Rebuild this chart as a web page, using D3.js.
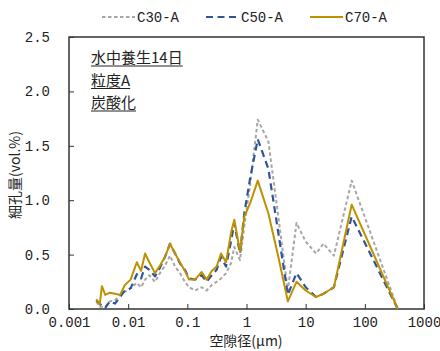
<!DOCTYPE html>
<html>
<head>
<meta charset="utf-8">
<script src="https://cdnjs.cloudflare.com/ajax/libs/d3/7.8.5/d3.min.js"></script>
<style>
  body { margin: 0; background: #fff; }
  text { font-family: "Noto Sans CJK JP", sans-serif; fill: #222; }
  .num { font-family: "Liberation Mono", "DejaVu Sans Mono", monospace; }
</style>
</head>
<body>
<script>
// pore diameter (um) and pore volume (vol.%)
var diam = [0.0029, 0.0033, 0.0036, 0.0041, 0.0049, 0.0060, 0.0073, 0.0088, 0.011, 0.014,
            0.0165, 0.0193, 0.0228, 0.0284, 0.0345, 0.042, 0.051, 0.062, 0.075, 0.091,
            0.107, 0.135, 0.175, 0.212, 0.258, 0.313, 0.371, 0.451, 0.547, 0.622,
            0.776, 0.918, 1.15, 1.55, 2.34, 3.45, 5, 7, 10, 15,
            20, 30, 60, 360];
var c30 = [0.07, 0.02, 0.02, 0.02, 0.07, 0.08, 0.13, 0.16, 0.19, 0.24,
           0.20, 0.27, 0.31, 0.25, 0.33, 0.40, 0.49, 0.39, 0.33, 0.25,
           0.20, 0.17, 0.20, 0.17, 0.22, 0.25, 0.28, 0.33, 0.42, 0.57,
           0.45, 0.76, 1.14, 1.74, 1.54, 0.85, 0.17, 0.79, 0.62, 0.51,
           0.60, 0.49, 1.18, 0.0];
var c50 = [0.08, 0.05, 0.03, 0.01, 0.07, 0.05, 0.11, 0.17, 0.19, 0.32,
           0.28, 0.39, 0.36, 0.30, 0.38, 0.48, 0.60, 0.51, 0.42, 0.36,
           0.28, 0.27, 0.31, 0.25, 0.31, 0.36, 0.48, 0.39, 0.62, 0.79,
           0.51, 0.88, 1.20, 1.56, 1.29, 0.70, 0.13, 0.33, 0.20, 0.11,
           0.14, 0.20, 0.85, 0.0];
var c70 = [0.09, 0.04, 0.21, 0.13, 0.15, 0.14, 0.13, 0.22, 0.27, 0.43,
           0.35, 0.51, 0.43, 0.33, 0.40, 0.48, 0.60, 0.51, 0.43, 0.35,
           0.27, 0.27, 0.34, 0.27, 0.35, 0.39, 0.51, 0.43, 0.70, 0.82,
           0.53, 0.85, 0.97, 1.18, 0.88, 0.48, 0.07, 0.25, 0.17, 0.11,
           0.14, 0.20, 0.96, 0.0];
var seriesNames = ["C30-A", "C50-A", "C70-A"];
var xTicks = [0.001, 0.01, 0.1, 1, 10, 100, 1000];
var xTickLabels = ["0.001", "0.01", "0.1", "1", "10", "100", "1000"];
var yTicks = [0, 0.5, 1, 1.5, 2, 2.5];
var yTickLabels = ["0.0", "0.5", "1.0", "1.5", "2.0", "2.5"];
var notes = ["水中養生14日", "粒度A", "炭酸化"];

var width = 440, height = 351;
var plotL = 69, plotR = 424, plotT = 37, plotB = 309;

var svg = d3.select("body").append("svg")
            .attr("width", width)
            .attr("height", height);

var x = d3.scaleLog().domain([0.001, 1000]).range([plotL, plotR]);
var y = d3.scaleLinear().domain([0, 2.5]).range([plotB, plotT]);

// frame
svg.append("rect")
   .attr("x", plotL).attr("y", plotT)
   .attr("width", plotR - plotL).attr("height", plotB - plotT)
   .attr("fill", "none").attr("stroke", "#333").attr("stroke-width", 1.5);

// axes, ticks inside
var xAxis = svg.append("g")
   .attr("transform", "translate(0," + plotB + ")")
   .call(d3.axisBottom(x).tickValues(xTicks).tickSizeInner(-5).tickSizeOuter(0)
           .tickFormat(function(d, i) { return xTickLabels[i]; }));
xAxis.select(".domain").remove();
xAxis.selectAll("line").attr("stroke", "#333");
xAxis.selectAll("text").attr("class", "num").attr("font-size", 14)
     .attr("y", 8).attr("fill", "#222");

var yAxis = svg.append("g")
   .attr("transform", "translate(" + plotL + ",0)")
   .call(d3.axisLeft(y).tickValues(yTicks).tickSizeInner(-5).tickSizeOuter(0)
           .tickFormat(function(d, i) { return yTickLabels[i]; }));
yAxis.select(".domain").remove();
yAxis.selectAll("line").attr("stroke", "#333");
yAxis.selectAll("text").attr("class", "num").attr("font-size", 14)
     .attr("x", -19).attr("fill", "#222");

// axis titles
svg.append("text")
   .attr("x", 246).attr("y", 346)
   .attr("text-anchor", "middle").attr("font-size", 14)
   .text("空隙径(μm)");
svg.append("text")
   .attr("transform", "translate(20,175) rotate(-90)")
   .attr("text-anchor", "middle").attr("font-size", 14)
   .text("細孔量(vol.%)");

// lines
var styles = [
  { data: c30, color: "#A6A6A6", dash: "3.5,2.5", w: 2 },
  { data: c50, color: "#2F5597", dash: "7,4.5", w: 2.2 },
  { data: c70, color: "#BF9000", dash: null, w: 2 }
];
var line = d3.line()
   .x(function(d) { return x(d[0]); })
   .y(function(d) { return y(d[1]); });

styles.forEach(function(s) {
  svg.append("path")
     .datum(d3.zip(diam, s.data))
     .attr("d", line)
     .attr("fill", "none")
     .attr("stroke", s.color)
     .attr("stroke-width", s.w)
     .attr("stroke-dasharray", s.dash)
     .attr("stroke-linejoin", "round");
});

// legend
var legX = [102, 206, 310];
styles.forEach(function(s, i) {
  svg.append("line")
     .attr("x1", legX[i]).attr("x2", legX[i] + 33)
     .attr("y1", 17).attr("y2", 17)
     .attr("stroke", s.color).attr("stroke-width", s.w)
     .attr("stroke-dasharray", s.dash);
  svg.append("text")
     .attr("class", "num")
     .attr("x", legX[i] + 35).attr("y", 22)
     .attr("font-size", 14)
     .text(seriesNames[i]);
});

// notes, underlined
notes.forEach(function(t, i) {
  var ty = 63 + i * 22.5;
  var txt = svg.append("text")
     .attr("x", 91).attr("y", ty)
     .attr("font-size", 15)
     .text(t);
  var len = txt.node().getComputedTextLength();
  svg.append("line")
     .attr("x1", 91).attr("x2", 91 + len)
     .attr("y1", ty + 3).attr("y2", ty + 3)
     .attr("stroke", "#222").attr("stroke-width", 1);
});
</script>
</body>
</html>
